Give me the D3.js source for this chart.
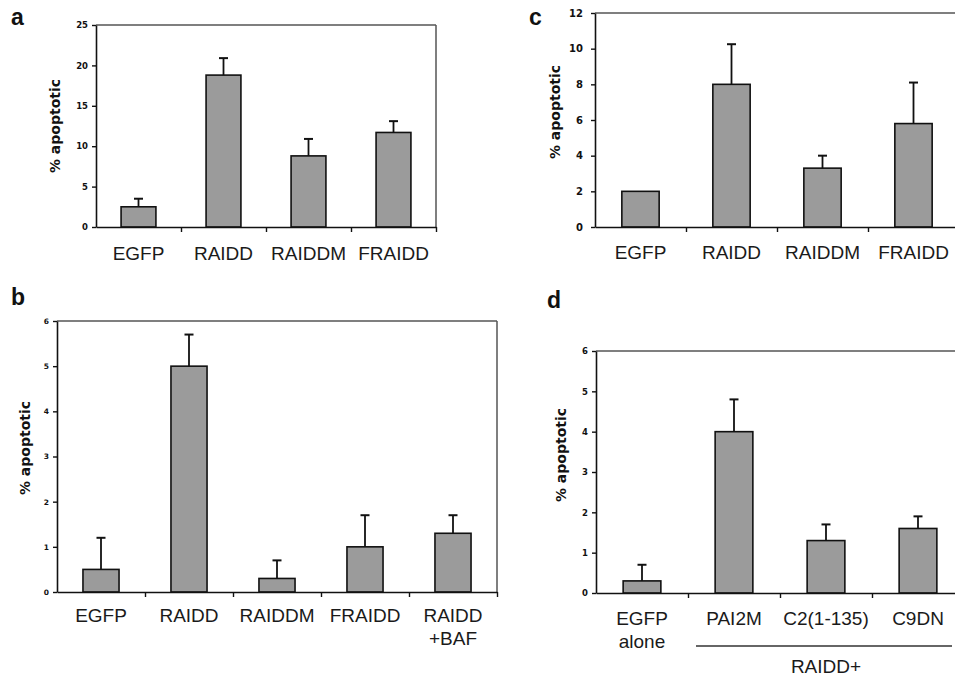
<!DOCTYPE html>
<html>
<head>
<meta charset="utf-8">
<script src="https://cdn.jsdelivr.net/npm/d3@7"></script>
<style>
  body { margin: 0; background: #fff; }
  svg { display: block; }
</style>
</head>
<body>
<svg id="chart"></svg>
<script>
// panel a
const catsA = ["EGFP", "RAIDD", "RAIDDM", "FRAIDD"];
const valsA = [2.5, 18.8, 8.8, 11.7];
const errA = [1.0, 2.1, 2.1, 1.4];
const ticksA = [0, 5, 10, 15, 20, 25];

// panel b
const catsB = ["EGFP", "RAIDD", "RAIDDM", "FRAIDD", "RAIDD\n+BAF"];
const valsB = [0.5, 5.0, 0.3, 1.0, 1.3];
const errB = [0.7, 0.7, 0.4, 0.7, 0.4];
const ticksB = [0, 1, 2, 3, 4, 5, 6];

// panel c
const catsC = ["EGFP", "RAIDD", "RAIDDM", "FRAIDD"];
const valsC = [2.0, 8.0, 3.3, 5.8];
const errC = [0, 2.25, 0.7, 2.3];
const ticksC = [0, 2, 4, 6, 8, 10, 12];

// panel d
const catsD = ["EGFP\nalone", "PAI2M", "C2(1-135)", "C9DN"];
const valsD = [0.3, 4.0, 1.3, 1.6];
const errD = [0.4, 0.8, 0.4, 0.3];
const ticksD = [0, 1, 2, 3, 4, 5, 6];
const groupD = "RAIDD+";

const yTitle = "% apoptotic";

const w = 955, h = 676;
const svg = d3.select("#chart").attr("width", w).attr("height", h);

// layout of each panel (pixels)
const panels = [
  { id: "a", cats: catsA, vals: valsA, errs: errA, ticks: ticksA,
    left: 96, top: 25, width: 340, bottom: 227, border: true, tickFont: 8.5, tickPad: 4,
    titleX: 55, titleY: 126, labX: 11, labY: 25, catY: 260 },
  { id: "c", cats: catsC, vals: valsC, errs: errC, ticks: ticksC,
    left: 595, top: 13, width: 364, bottom: 227, border: false, tickFont: 10, tickPad: 8,
    titleX: 555, titleY: 112, labX: 529, labY: 25, catY: 259 },
  { id: "b", cats: catsB, vals: valsB, errs: errB, ticks: ticksB,
    left: 57, top: 321, width: 440, bottom: 592, border: true, tickFont: 7.5, tickPad: 4,
    titleX: 25, titleY: 448, labX: 11, labY: 305, catY: 622 },
  { id: "d", cats: catsD, vals: valsD, errs: errD, ticks: ticksD,
    left: 596, top: 351, width: 368, bottom: 593, border: false, tickFont: 8.5, tickPad: 4,
    titleX: 561, titleY: 455, labX: 547, labY: 308, catY: 625 }
];

function drawPanel(p) {
  const g = svg.append("g");
  const n = p.cats.length;

  const x = d3.scaleBand().domain(p.cats).range([p.left, p.left + p.width]).padding(0);
  const xTick = d3.scaleLinear().domain([0, n]).range([p.left, p.left + p.width]);
  const y = d3.scaleLinear().domain([0, d3.max(p.ticks)]).range([p.bottom, p.top]);
  const barW = x.bandwidth() * 0.41;

  // top (and right) frame
  g.append("line")
    .attr("x1", p.left).attr("x2", p.left + p.width)
    .attr("y1", p.top).attr("y2", p.top)
    .attr("stroke", "#555").attr("stroke-width", 1.5);
  if (p.border) {
    g.append("line")
      .attr("x1", p.left + p.width).attr("x2", p.left + p.width)
      .attr("y1", p.top).attr("y2", p.bottom)
      .attr("stroke", "#555").attr("stroke-width", 1.5);
  }

  // bars
  const data = p.cats.map((c, i) => ({ cat: c, v: p.vals[i], e: p.errs[i] }));
  g.selectAll("rect.bar")
    .data(data)
    .enter()
    .append("rect")
    .attr("class", "bar")
    .attr("x", d => x(d.cat) + (x.bandwidth() - barW) / 2)
    .attr("y", d => y(d.v))
    .attr("width", barW)
    .attr("height", d => p.bottom - y(d.v))
    .attr("fill", "#9b9b9b")
    .attr("stroke", "#111")
    .attr("stroke-width", 1.6);

  // error bars (upper only)
  const eb = g.selectAll("g.err")
    .data(data.filter(d => d.e > 0))
    .enter()
    .append("g")
    .attr("class", "err");
  eb.append("line")
    .attr("x1", d => x(d.cat) + x.bandwidth() / 2)
    .attr("x2", d => x(d.cat) + x.bandwidth() / 2)
    .attr("y1", d => y(d.v))
    .attr("y2", d => y(d.v + d.e))
    .attr("stroke", "#111").attr("stroke-width", 1.8);
  eb.append("line")
    .attr("x1", d => x(d.cat) + x.bandwidth() / 2 - 4.5)
    .attr("x2", d => x(d.cat) + x.bandwidth() / 2 + 4.5)
    .attr("y1", d => y(d.v + d.e))
    .attr("y2", d => y(d.v + d.e))
    .attr("stroke", "#111").attr("stroke-width", 2);

  // y axis
  const yAxis = g.append("g")
    .attr("transform", `translate(${p.left},0)`)
    .call(d3.axisLeft(y).tickValues(p.ticks).tickFormat(d3.format("d"))
      .tickSize(4).tickPadding(p.tickPad).tickSizeOuter(0));
  yAxis.select(".domain").attr("stroke", "#111").attr("stroke-width", 1.6);
  yAxis.selectAll(".tick line").attr("stroke", "#111").attr("stroke-width", 1.4);
  yAxis.selectAll(".tick text")
    .attr("fill", "#111")
    .style("font-family", "'DejaVu Sans', sans-serif")
    .style("font-weight", "bold")
    .style("font-size", p.tickFont + "px");

  // x axis with ticks between categories
  const xAxis = g.append("g")
    .attr("transform", `translate(0,${p.bottom})`)
    .call(d3.axisBottom(xTick).tickValues(d3.range(1, n + 1)).tickSize(5).tickSizeOuter(0).tickFormat(""));
  xAxis.select(".domain").attr("stroke", "#111").attr("stroke-width", 1.6);
  xAxis.selectAll(".tick line").attr("stroke", "#111").attr("stroke-width", 1.4);

  // category labels
  const labs = g.selectAll("text.cat")
    .data(data)
    .enter()
    .append("text")
    .attr("class", "cat")
    .attr("text-anchor", "middle")
    .attr("fill", "#1a1a1a")
    .style("font-family", "Arial, 'Liberation Sans', sans-serif")
    .style("font-size", "19px");
  labs.each(function(d) {
    const t = d3.select(this);
    d.cat.split("\n").forEach((s, k) => {
      t.append("tspan")
        .attr("x", x(d.cat) + x.bandwidth() / 2)
        .attr("y", p.catY + k * 23)
        .text(s);
    });
  });

  // y title
  g.append("text")
    .attr("transform", `translate(${p.titleX},${p.titleY})rotate(-90)`)
    .attr("text-anchor", "middle")
    .attr("dy", "0.35em")
    .attr("fill", "#111")
    .style("font-family", "'DejaVu Sans', sans-serif")
    .style("font-weight", "bold")
    .style("font-size", "14px")
    .text(yTitle);

  // panel letter
  g.append("text")
    .attr("x", p.labX).attr("y", p.labY)
    .attr("fill", "#111")
    .style("font-family", "Arial, 'Liberation Sans', sans-serif")
    .style("font-weight", "bold")
    .style("font-size", "23px")
    .text(p.id);

  return { g, x };
}

panels.forEach(p => {
  const r = drawPanel(p);
  if (p.id === "d") {
    // bracket under the RAIDD+ groups
    const x0 = r.x(catsD[1]) + 8;
    const x1 = r.x(catsD[3]) + r.x.bandwidth() - 12;
    r.g.append("line")
      .attr("x1", x0).attr("x2", x1)
      .attr("y1", 646).attr("y2", 646)
      .attr("stroke", "#333").attr("stroke-width", 1.5);
    r.g.append("text")
      .attr("x", (r.x(catsD[1]) + r.x(catsD[3]) + r.x.bandwidth()) / 2)
      .attr("y", 673)
      .attr("text-anchor", "middle")
      .attr("fill", "#1a1a1a")
      .style("font-family", "Arial, 'Liberation Sans', sans-serif")
      .style("font-size", "19px")
      .text(groupD);
  }
});
</script>
</body>
</html>
